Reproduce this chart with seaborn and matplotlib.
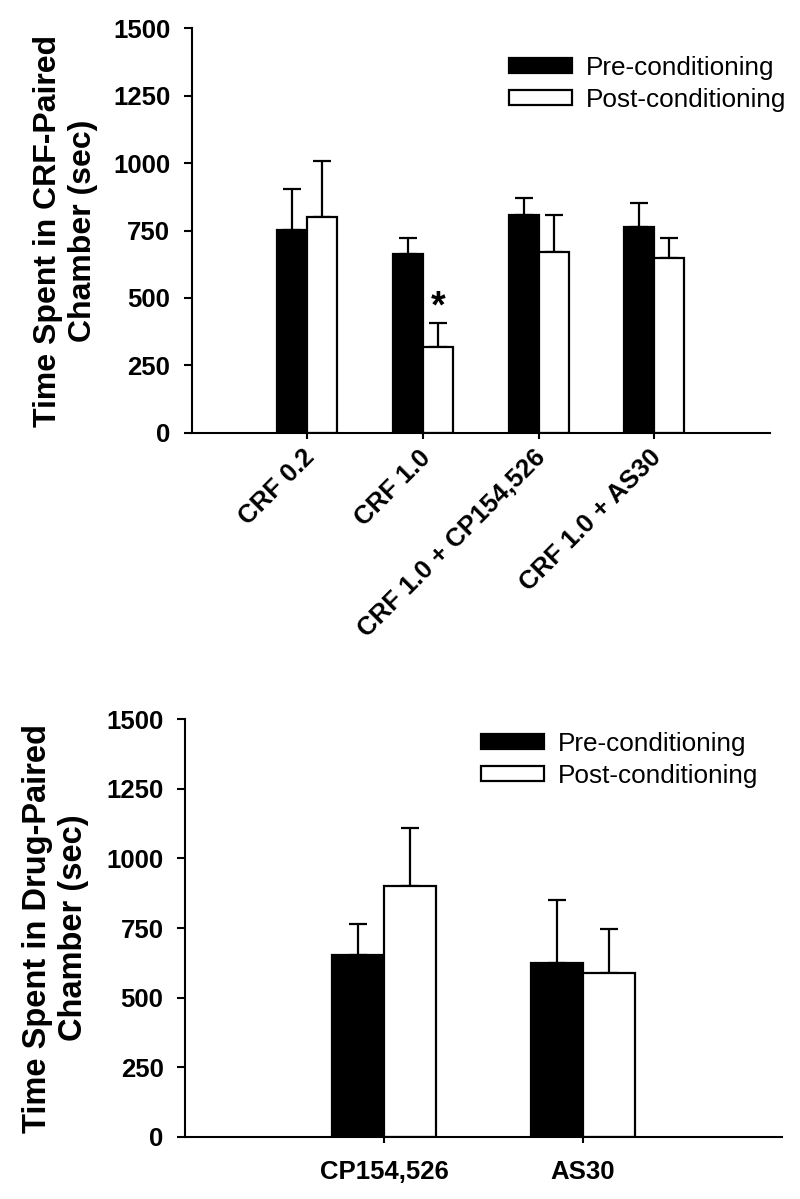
import matplotlib
matplotlib.use("Agg")
import matplotlib.pyplot as plt
import matplotlib.transforms as mtransforms
import seaborn as sns
import pandas as pd
import numpy as np

# ---------------- data ----------------
phases = ["Pre-conditioning", "Post-conditioning"]

top_groups = ["CRF 0.2", "CRF 1.0", "CRF 1.0 + CP154,526", "CRF 1.0 + AS30"]
top_pre = [752, 663, 807, 764]
top_post = [799, 318, 669, 647]
top_pre_err = [151, 60, 62, 89]
top_post_err = [209, 90, 138, 74]

bot_groups = ["CP154,526", "AS30"]
bot_pre = [652, 626]
bot_post = [900, 590]
bot_pre_err = [114, 223]
bot_post_err = [209, 156]

yticks = [0, 250, 500, 750, 1000, 1250, 1500]
top_ylabel = "Time Spent in CRF-Paired\nChamber (sec)"
bot_ylabel = "Time Spent in Drug-Paired\nChamber (sec)"
sig_group = "CRF 1.0"
sig_mark = "*"

# ---------------- style ----------------
sns.set_style("ticks")
plt.rcParams["font.family"] = ["Liberation Sans", "DejaVu Sans"]
plt.rcParams.update({
    "axes.linewidth": 1.5,
    "text.color": "black",
    "axes.labelcolor": "black",
    "axes.edgecolor": "black",
    "xtick.color": "black",
    "ytick.color": "black",
})

fig = plt.figure(figsize=(8, 11.99), dpi=100)
ax1 = fig.add_axes([0.2396, 0.6391, 0.7229, 0.3373])
ax2 = fig.add_axes([0.2313, 0.0520, 0.7463, 0.3480])

palette = {phases[0]: "black", phases[1]: "white"}


def make_df(groups, pre, post):
    return pd.DataFrame({
        "group": list(groups) * 2,
        "phase": [phases[0]] * len(groups) + [phases[1]] * len(groups),
        "value": list(pre) + list(post),
    })


def draw(ax, groups, pre, post, pre_err, post_err, xlim):
    df = make_df(groups, pre, post)
    sns.barplot(data=df, x="group", y="value", hue="phase", order=groups,
                hue_order=phases, palette=palette, edgecolor="black",
                linewidth=1.6, width=0.52, errorbar=None, saturation=1,
                ax=ax, zorder=2)
    for cont, errs in zip(ax.containers, [pre_err, post_err]):
        xs = [p.get_x() + p.get_width() / 2 for p in cont.patches]
        ys = [p.get_height() for p in cont.patches]
        ax.errorbar(xs, ys, yerr=[np.zeros(len(errs)), errs], fmt="none",
                    ecolor="black", elinewidth=1.6, capsize=6.2,
                    capthick=1.6, zorder=1)
    ax.set_ylim(0, 1500)
    ax.set_yticks(yticks)
    ax.set_yticklabels([str(t) for t in yticks], fontsize=18.5,
                       fontweight="bold")
    ax.set_xlim(*xlim)
    ax.set_xlabel("")
    sns.despine(ax=ax)
    ax.tick_params(axis="y", length=6, width=1.5, pad=9.5, direction="out")
    ax.tick_params(axis="x", length=4.5, width=1.5, direction="out")
    handles, labels = ax.get_legend_handles_labels()
    if ax.get_legend() is not None:
        ax.get_legend().remove()
    return handles, labels


# ---- top panel ----
h1, l1 = draw(ax1, top_groups, top_pre, top_post, top_pre_err, top_post_err,
              (-1, 4))
ax1.set_xticks(range(len(top_groups)))
ax1.set_xticklabels(top_groups, rotation=45, ha="right",
                    rotation_mode="anchor", fontsize=18.5, fontweight="bold")
ax1.tick_params(axis="x", pad=6)
shift = mtransforms.ScaledTranslation(-5 / 100, 2 / 100, fig.dpi_scale_trans)
for lab in ax1.get_xticklabels():
    lab.set_transform(lab.get_transform() + shift)
ax1.set_ylabel(top_ylabel, fontsize=23, fontweight="bold", linespacing=1.2)
ax1.yaxis.set_label_coords(-0.162, 0.5)

# significance mark above the CRF 1.0 post-conditioning bar
gi = top_groups.index(sig_group)
post_bar = ax1.containers[1].patches[gi]
ax1.text(post_bar.get_x() + post_bar.get_width() / 2,
         top_post[gi] + top_post_err[gi] + 20, sig_mark,
         ha="center", va="baseline", fontsize=27, fontweight="bold")

leg_kw = dict(frameon=False, fontsize=18.8, handlelength=2.4,
              handleheight=0.52, handletextpad=0.56, labelspacing=0.3,
              borderpad=0, borderaxespad=0, loc="upper left")
fig.legend(h1, l1, bbox_to_anchor=(509 / 800, 1 - 56 / 1199),
           bbox_transform=fig.transFigure, **leg_kw)

# ---- bottom panel ----
h2, l2 = draw(ax2, bot_groups, bot_pre, bot_post, bot_pre_err, bot_post_err,
              (-1, 2))
ax2.set_xticks(range(len(bot_groups)))
ax2.set_xticklabels(bot_groups, fontsize=18.5, fontweight="bold")
ax2.tick_params(axis="x", pad=12.5)
ax2.set_ylabel(bot_ylabel, fontsize=23.5, fontweight="bold", linespacing=1.2)
ax2.yaxis.set_label_coords(-0.161, 0.5)
fig.legend(h2, l2, bbox_to_anchor=(481 / 800, 1 - 732 / 1199),
           bbox_transform=fig.transFigure, **leg_kw)

fig.savefig("out.png", dpi=100, facecolor="white")
